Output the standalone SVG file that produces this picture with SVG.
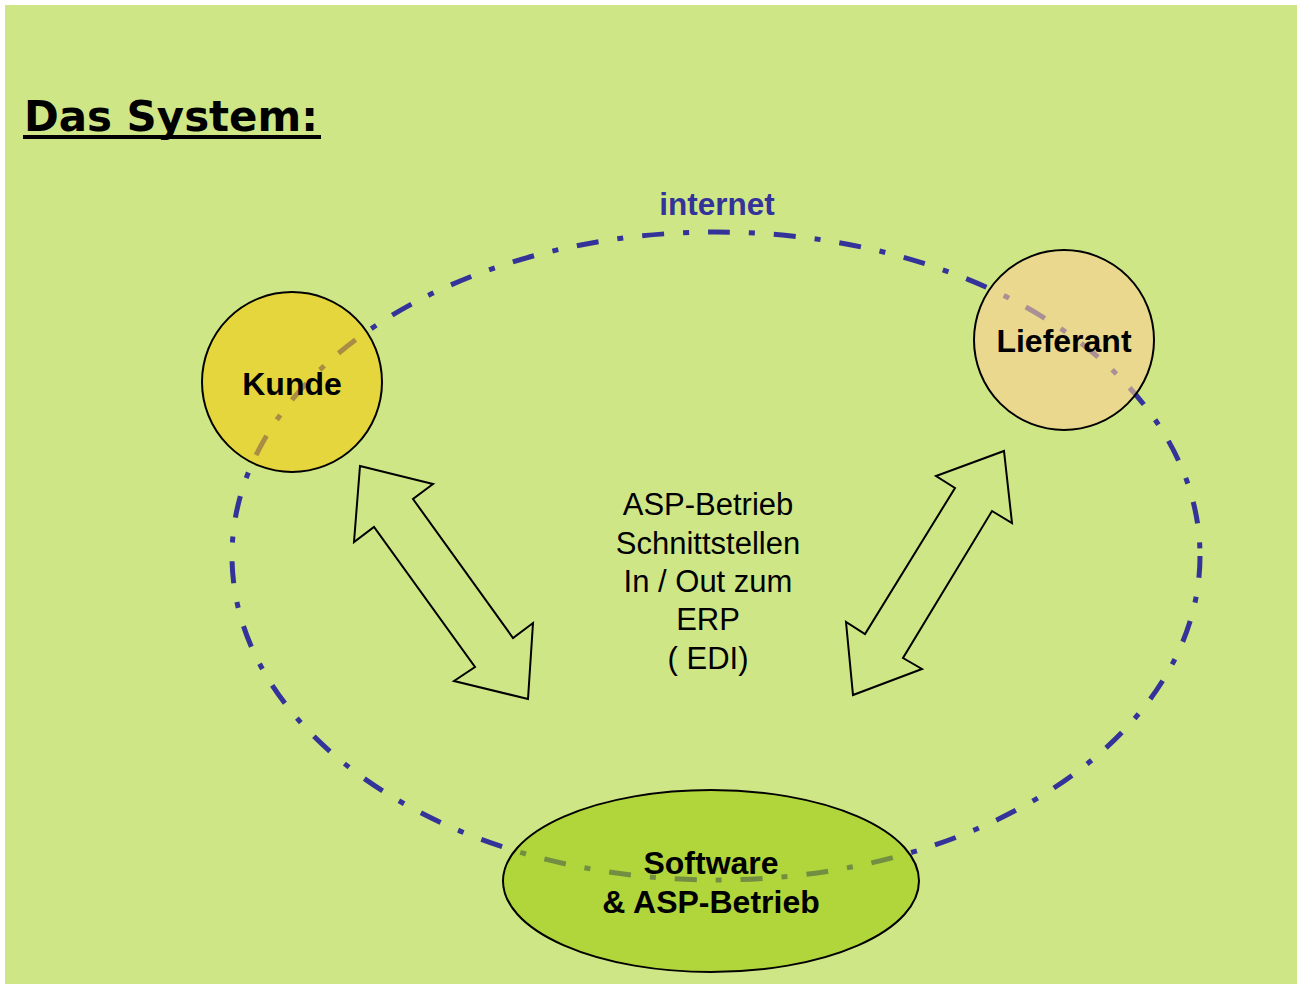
<svg xmlns="http://www.w3.org/2000/svg" width="1297" height="985" viewBox="0 0 1297 985">
<style>
.node{stroke:#000;stroke-width:2;fill-opacity:0.6}
.lbl{font-family:"Liberation Sans",Arial,sans-serif;font-weight:bold;font-size:32px;fill:#000;text-anchor:middle}
.body{font-family:"Liberation Sans",Arial,sans-serif;font-size:31px;fill:#000;text-anchor:middle}
.arrow{fill:none;stroke:#000;stroke-width:2;stroke-linejoin:miter}
</style>
<rect x="0" y="0" width="1297" height="985" fill="#ffffff"/>
<rect x="5" y="5" width="1292" height="979" fill="#cfe687"/>
<g id="title">
<text x="24" y="131" font-family="'DejaVu Sans',Verdana,sans-serif" font-weight="bold" font-size="43" textLength="294" lengthAdjust="spacingAndGlyphs">Das System:</text>
<rect x="23" y="135" width="298" height="4" fill="#000"/>
</g>
<g id="connectors">
<ellipse cx="716" cy="556" rx="484" ry="324" fill="none" stroke="#333399" stroke-width="5" stroke-dasharray="22 19 6 19"/>
<text x="717" y="215" font-family="'Liberation Sans',Arial,sans-serif" font-weight="bold" font-size="31.5" fill="#333399" text-anchor="middle">internet</text>
<polygon class="arrow" points="360,466 433,484 413,499 513,638 533,623 528,699 454,681 475,667 374,527 354,542"/>
<polygon class="arrow" points="1004,451 1012,523 992,511 903,658 922,669 853,695 846,622 865,634 955,488 936,476"/>
</g>
<g id="kunde">
<circle class="node" cx="292" cy="382" r="90" fill="#f5cc0b"/>
<text class="lbl" x="292" y="395">Kunde</text>
</g>
<g id="lieferant">
<circle class="node" cx="1064" cy="340" r="90" fill="#facf91"/>
<text class="lbl" x="1064" y="352">Lieferant</text>
</g>
<g id="software">
<ellipse class="node" cx="711" cy="881" rx="208" ry="91" fill="#9dcc08"/>
<text class="lbl" x="711" y="874">Software</text>
<text class="lbl" x="711" y="913">&amp; ASP-Betrieb</text>
</g>
<g id="center-text">
<text class="body" x="708" y="515">ASP-Betrieb</text>
<text class="body" x="708" y="554">Schnittstellen</text>
<text class="body" x="708" y="592">In / Out zum</text>
<text class="body" x="708" y="630">ERP</text>
<text class="body" x="708" y="669">( EDI)</text>
</g>
</svg>
